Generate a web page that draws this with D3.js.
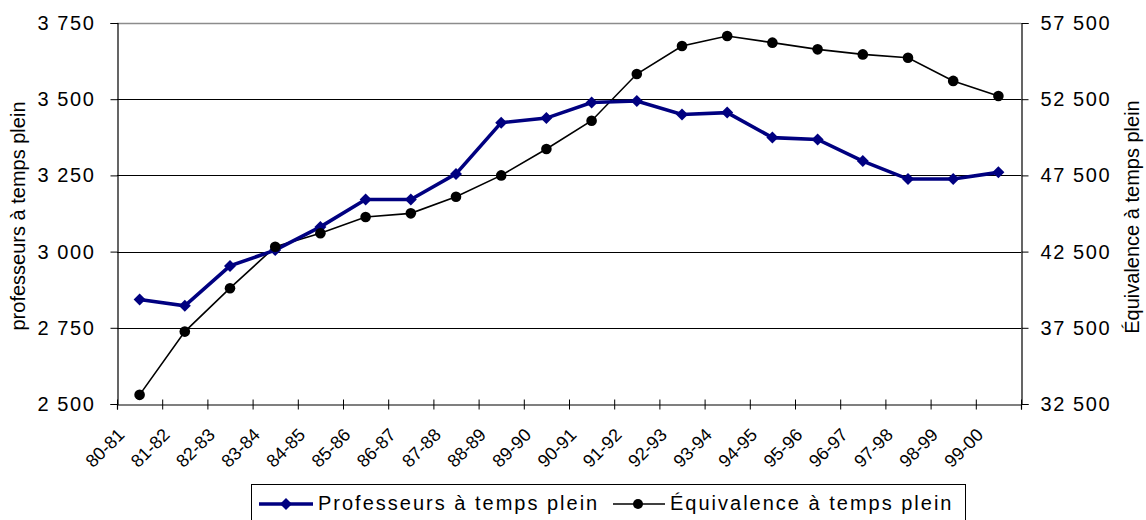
<!DOCTYPE html>
<html>
<head>
<meta charset="utf-8">
<script src="https://cdn.jsdelivr.net/npm/d3@7"></script>
<style>
    body { margin: 0; background: #fff; }
    svg { display: block; font-family: "Liberation Sans", Arial, sans-serif; }
</style>
</head>
<body>
<svg id="chart" width="1146" height="520"></svg>
<script>
const years = ["80-81", "81-82", "82-83", "83-84", "84-85", "85-86", "86-87", "87-88",
    "88-89", "89-90", "90-91", "91-92", "92-93", "93-94", "94-95", "95-96",
    "96-97", "97-98", "98-99", "99-00"];

// professeurs a temps plein (left axis)
const full_time = [2843, 2822, 2953, 3005, 3081, 3171, 3171, 3255, 3423, 3438,
    3489, 3494, 3450, 3456, 3374, 3368, 3297, 3238, 3238, 3260];

// equivalence a temps plein (right axis)
const fte = [33100, 37250, 40100, 42820, 43700, 44770, 45010, 46100, 47500, 49230,
    51090, 54150, 55990, 56650, 56210, 55770, 55440, 55220, 53700, 52710];

const left_ticks = [2500, 2750, 3000, 3250, 3500, 3750];
const right_ticks = [32500, 37500, 42500, 47500, 52500, 57500];

const legend_labels = ["Professeurs à temps plein", "Équivalence à temps plein"];


const svg = d3.select("#chart");
const plot = { left: 117, right: 1021, top: 23, bottom: 404 };

const x_band = d3.scaleBand()
    .domain(years)
    .range([plot.left, plot.right]);
const x_edge = d3.scaleLinear()
    .domain([0, years.length])
    .range([plot.left, plot.right]);
const y_left = d3.scaleLinear()
    .domain([2500, 3750])
    .range([plot.bottom, plot.top]);
const y_right = d3.scaleLinear()
    .domain([32500, 57500])
    .range([plot.bottom, plot.top]);

const cx = (d, i) => x_band(years[i]) + x_band.bandwidth() / 2;

// french style thousands: "3 750"
const fmt = (v) => d3.format(",")(v).replace(",", " ");

// gridlines
svg.append("g")
    .selectAll("line")
    .data(left_ticks.slice(1))
    .enter()
    .append("line")
    .attr("x1", plot.left)
    .attr("x2", plot.right)
    .attr("y1", (d) => Math.round(y_left(d)) + 0.5)
    .attr("y2", (d) => Math.round(y_left(d)) + 0.5)
    .style("stroke", (d) => d == 3750 ? "#8c8c8c" : "#000")
    .style("stroke-width", (d) => d == 3750 ? 1.5 : 1);

// left axis
const left_axis = svg.append("g")
    .attr("transform", `translate(${plot.left + 0.5},0)`)
    .call(d3.axisLeft(y_left).tickValues(left_ticks).tickSize(7).tickPadding(15).tickFormat(fmt));

// right axis
const right_axis = svg.append("g")
    .attr("transform", `translate(${plot.right + 0.5},0)`)
    .call(d3.axisRight(y_right).tickValues(right_ticks).tickSize(7).tickPadding(12).tickFormat(fmt));

// bottom axis, ticks at category edges crossing the line
const bottom_axis = svg.append("g")
    .attr("transform", `translate(0,${plot.bottom + 0.5})`)
    .call(d3.axisBottom(x_edge).tickValues(d3.range(years.length + 1)).tickSize(5).tickFormat(""));
bottom_axis.selectAll(".tick line").attr("y1", -5);

[left_axis, right_axis, bottom_axis].forEach(function (g) {
    g.select(".domain").style("stroke", "#000").style("stroke-width", 1.2);
    g.selectAll(".tick line").style("stroke", "#000");
    g.selectAll(".tick text")
        .style("font-size", "20px")
        .style("letter-spacing", "1.6px")
        .style("fill", "#000");
});

// category labels
svg.append("g")
    .selectAll("text")
    .data(years)
    .enter()
    .append("text")
    .attr("transform", (d, i) => `translate(${cx(d, i) - 14},436) rotate(-45)`)
    .attr("text-anchor", "end")
    .style("font-size", "18px")
    .text((d) => d);

// axis titles
svg.append("text")
    .attr("transform", `translate(25,216) rotate(-90)`)
    .attr("text-anchor", "middle")
    .style("font-size", "20px")
    .text("professeurs à temps plein");

svg.append("text")
    .attr("transform", `translate(1139,217) rotate(-90)`)
    .attr("text-anchor", "middle")
    .style("font-size", "20px")
    .text("Équivalence à temps plein");

// series
const line_left = d3.line()
    .x(cx)
    .y((d) => y_left(d));
const line_right = d3.line()
    .x(cx)
    .y((d) => y_right(d));

svg.append("path")
    .datum(fte)
    .attr("d", line_right)
    .style("fill", "none")
    .style("stroke", "#000")
    .style("stroke-width", 1.6);

svg.append("path")
    .datum(full_time)
    .attr("d", line_left)
    .style("fill", "none")
    .style("stroke", "#000080")
    .style("stroke-width", 3.6);

const diamond = "M0,-6L6,0L0,6L-6,0Z";

svg.append("g")
    .selectAll("path")
    .data(full_time)
    .enter()
    .append("path")
    .attr("d", diamond)
    .attr("transform", (d, i) => `translate(${cx(d, i)},${y_left(d)})`)
    .style("fill", "#000080");

svg.append("g")
    .selectAll("circle")
    .data(fte)
    .enter()
    .append("circle")
    .attr("cx", cx)
    .attr("cy", (d) => y_right(d))
    .attr("r", 5.3)
    .style("fill", "#000");

// legend
const legend = svg.append("g");
legend.append("rect")
    .attr("x", 251.5)
    .attr("y", 484.5)
    .attr("width", 714)
    .attr("height", 40)
    .style("fill", "#fff")
    .style("stroke", "#000")
    .style("stroke-width", 1);

legend.append("line")
    .attr("x1", 259).attr("x2", 313)
    .attr("y1", 504).attr("y2", 504)
    .style("stroke", "#000080")
    .style("stroke-width", 3.6);
legend.append("path")
    .attr("d", diamond)
    .attr("transform", "translate(286,504)")
    .style("fill", "#000080");

legend.append("line")
    .attr("x1", 613).attr("x2", 665)
    .attr("y1", 504).attr("y2", 504)
    .style("stroke", "#000")
    .style("stroke-width", 1.6);
legend.append("circle")
    .attr("cx", 638).attr("cy", 504).attr("r", 5)
    .style("fill", "#000");

legend.selectAll("text")
    .data(legend_labels)
    .enter()
    .append("text")
    .attr("x", (d, i) => i == 0 ? 318 : 670)
    .attr("y", 510)
    .style("font-size", "20px")
    .style("letter-spacing", "2px")
    .text((d) => d);
</script>
</body>
</html>
